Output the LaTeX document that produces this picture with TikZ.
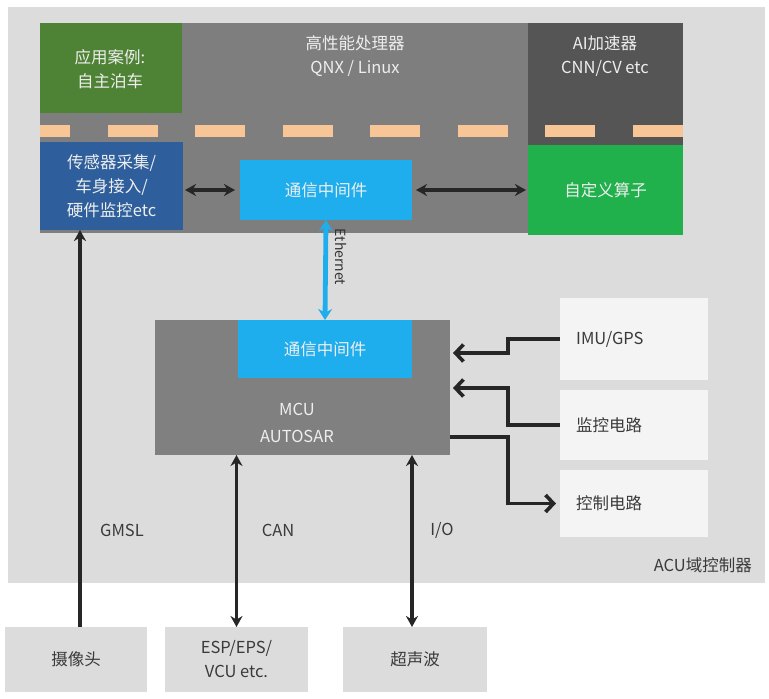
\documentclass[tikz,border=0pt]{standalone}
\usepackage{fontspec}
\setmainfont{Noto Sans CJK SC}
\usetikzlibrary{arrows.meta}
\definecolor{outergray}{HTML}{DCDCDC}
\definecolor{procgray}{HTML}{7E7E7E}
\definecolor{aigray}{HTML}{555555}
\definecolor{appgreen}{HTML}{4E8234}
\definecolor{sensblue}{HTML}{2E5F9C}
\definecolor{commblue}{HTML}{1EAEEE}
\definecolor{custgreen}{HTML}{20B04C}
\definecolor{peach}{HTML}{F8C596}
\definecolor{mcugray}{HTML}{808080}
\definecolor{sidebox}{HTML}{F4F4F4}
\definecolor{txtdark}{HTML}{3A3A3A}
\definecolor{txtlight}{HTML}{EEEEEE}
\tikzset{
  x=1pt,y=-1pt,
  blk/.style={draw=none,inner sep=0pt,outer sep=0pt},
  wtxt/.style={text=txtlight,font=\fontsize{16.5}{24}\selectfont,align=center,inner sep=0pt},
  dtxt/.style={text=txtdark,font=\fontsize{16.5}{24}\selectfont,align=center,inner sep=0pt},
  darr/.style={line width=3.6pt,black!85,{Stealth[length=11pt,width=12pt]}-{Stealth[length=11pt,width=12pt]}},
  uarr/.style={line width=3.6pt,black!85,-{Stealth[length=11pt,width=12pt]}},
  barb/.style={line width=3.6pt,black!85,-{Straight Barb[length=8pt,width=17pt]}},
  eth/.style={line width=4.8pt,commblue,{Stealth[length=11pt,width=14pt]}-{Stealth[length=11pt,width=14pt]}}
}
\begin{document}
\begin{tikzpicture}
\useasboundingbox[fill=white] (0,0) rectangle (769,699);
% outer ACU box
\fill[outergray] (8,7) rectangle (765,583);
% processor
\node[blk,fill=procgray,minimum width=643pt,minimum height=210pt,anchor=north west] (proc) at (40,23) {};
\node[blk,fill=appgreen,minimum width=142pt,minimum height=90pt,anchor=north west] (app) at (40,23) {};
\node[blk,fill=aigray,minimum width=155pt,minimum height=122pt,anchor=north west] (ai) at (528,23) {};
% orange dashed separator
\draw[peach,line width=12pt,dash pattern=on 50pt off 37.5pt,dash phase=20pt] (proc.west |- 0,131) -- (proc.east |- 0,131);
\node[blk,fill=sensblue,minimum width=143pt,minimum height=88pt,anchor=north west] (sens) at (40,142) {};
\node[blk,fill=commblue,minimum width=172pt,minimum height=60pt,anchor=north west] (comm1) at (240,160) {};
\node[blk,fill=custgreen,minimum width=155pt,minimum height=90pt,anchor=north west] (cust) at (528,145) {};
% texts in processor
\node[wtxt] (apptxt) at (110,69) {应用案例:\\自主泊车};
\node[wtxt] (proctxt) at (355,56) {高性能处理器\\QNX / Linux};
\node[wtxt] (aitxt) at (605,56) {AI加速器\\CNN/CV etc};
\node[wtxt] (senstxt) at (sens.center) {传感器采集/\\车身接入/\\硬件监控etc};
\node[wtxt] (comm1txt) at (comm1.center) {通信中间件};
\node[wtxt] (custtxt) at (cust.center) {自定义算子};
% MCU
\node[blk,fill=mcugray,minimum width=295pt,minimum height=135pt,anchor=north west] (mcu) at (155,320) {};
\node[blk,fill=commblue,minimum width=174pt,minimum height=58pt,anchor=north west] (comm2) at (238,320) {};
\node[wtxt] (comm2txt) at (comm2.center) {通信中间件};
\node[wtxt,font=\fontsize{16.5}{27}\selectfont] (mcutxt) at (297,423) {MCU\\AUTOSAR};
% right side boxes
\node[blk,fill=sidebox,minimum width=148pt,minimum height=82pt,anchor=north west] (imu) at (560,298) {};
\node[blk,fill=sidebox,minimum width=148pt,minimum height=70pt,anchor=north west] (mon) at (560,390) {};
\node[blk,fill=sidebox,minimum width=148pt,minimum height=67pt,anchor=north west] (ctrl) at (560,470) {};
\node[dtxt,anchor=west] (imutxt) at (576,339) {IMU/GPS};
\node[dtxt,anchor=west] (montxt) at (576,425) {监控电路};
\node[dtxt,anchor=west] (ctrltxt) at (576,503) {控制电路};
\node[dtxt,anchor=east] (acutxt) at (752,565) {ACU域控制器};
% bottom boxes
\node[blk,fill=outergray,minimum width=142pt,minimum height=65pt,anchor=north west] (cam) at (5,627) {};
\node[blk,fill=outergray,minimum width=143pt,minimum height=65pt,anchor=north west] (esp) at (165,627) {};
\node[blk,fill=outergray,minimum width=144pt,minimum height=65pt,anchor=north west] (ultra) at (343,627) {};
\node[dtxt] (camtxt) at (cam.center) {摄像头};
\node[dtxt] (esptxt) at (esp.center) {ESP/EPS/\\VCU etc.};
\node[dtxt] (ultratxt) at (ultra.center) {超声波};
% connectors
\draw[darr] (sens.east |- 0,190) ++(2,0) -- ([xshift=-5pt]comm1.west);
\draw[darr] ([xshift=4pt]comm1.east) -- ([xshift=-2pt]cust.west);
\draw[eth] (comm1.south) -- (comm2.north);
\node[dtxt,text=black!80,rotate=-90,font=\fontsize{14}{16}\selectfont] (ethtxt) at (341,257) {Ethernet};
\draw[barb] (imu.west) -- (508,339) |- ([xshift=3pt]mcu.east |- 0,353);
\draw[barb] (mon.west) -- (508,425) |- ([xshift=3pt]mcu.east |- 0,388);
\draw[barb] (mcu.east |- 0,437) -- (508,437) |- ([xshift=-4pt]ctrl.west);
\coordinate (gmslbot) at (80,627);
\draw[uarr] (gmslbot) -- (gmslbot |- sens.south);
\draw[darr] (esp.north) -- (esp.north |- mcu.south);
\coordinate (iobot) at (412,627);
\draw[darr] (iobot) -- (iobot |- mcu.south);
\node[dtxt] (gmsltxt) at (122,530) {GMSL};
\node[dtxt] (cantxt) at (278,530) {CAN};
\node[dtxt] (iotxt) at (442,530) {I/O};
\end{tikzpicture}
\end{document}
